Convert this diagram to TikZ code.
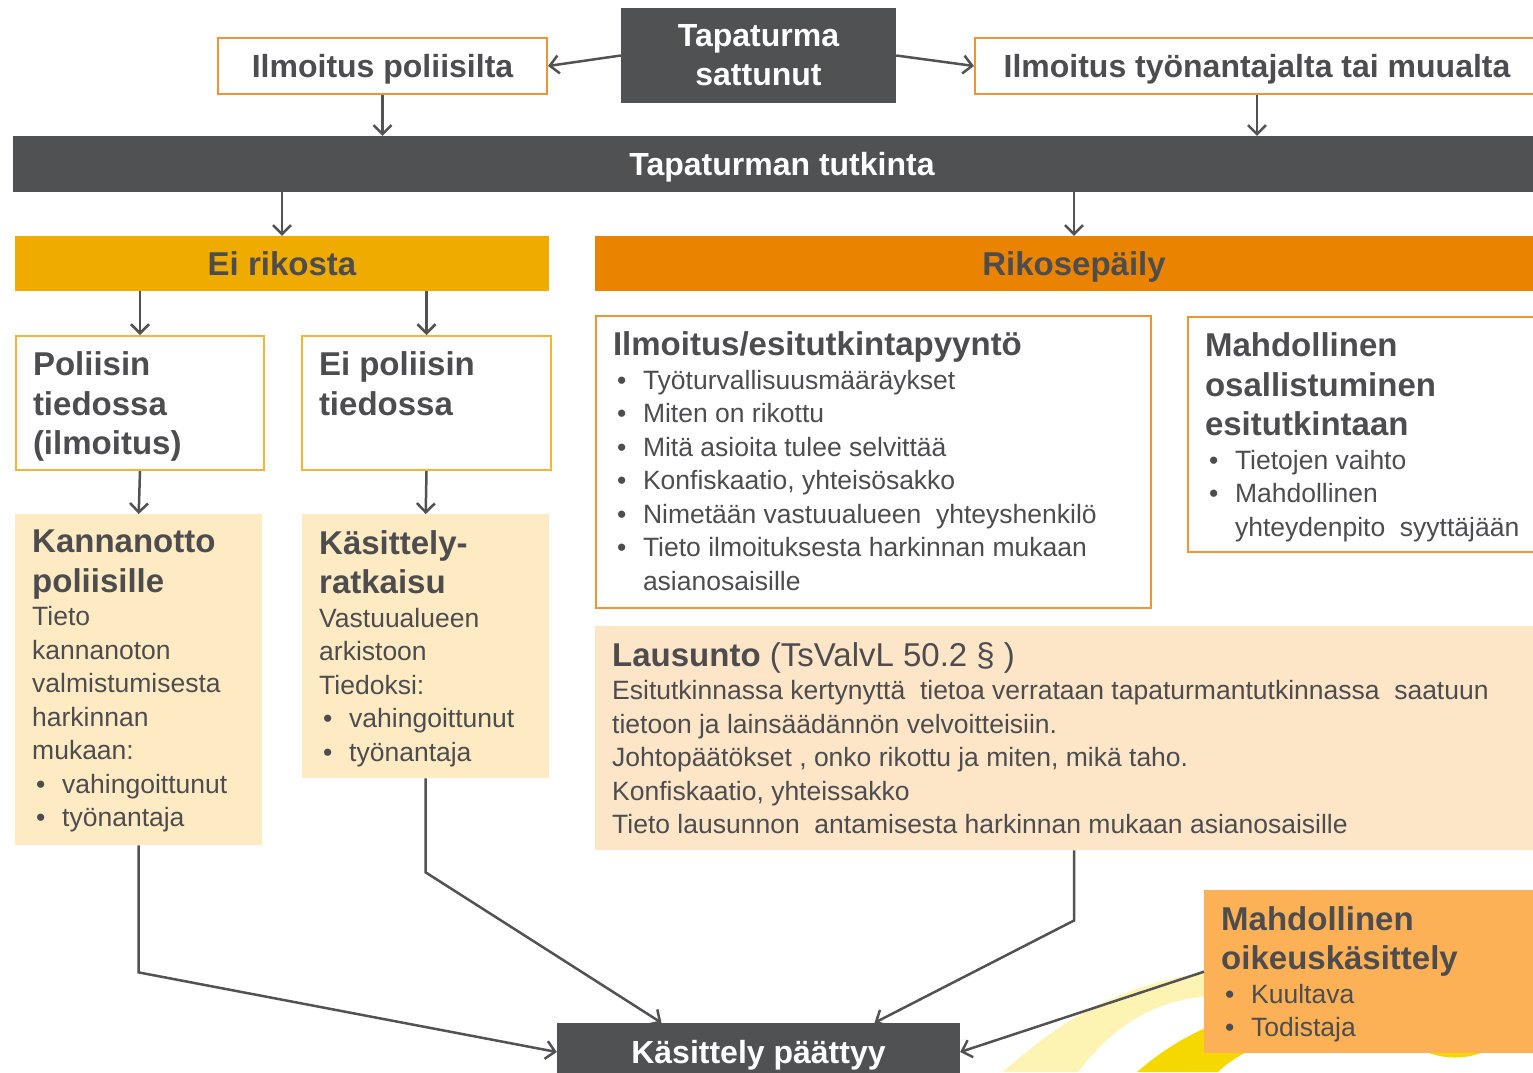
\documentclass[tikz,border=0pt]{standalone}
\usepackage{fontspec}
\setmainfont{Liberation Sans}
\usetikzlibrary{arrows.meta,positioning}

\definecolor{barGray}{RGB}{80,81,83}
\definecolor{txtGray}{RGB}{77,77,79}
\definecolor{arrGray}{RGB}{82,82,84}
\definecolor{lineOrange}{RGB}{236,150,50}
\definecolor{lineYellow}{RGB}{242,182,50}
\definecolor{eiFill}{RGB}{240,171,0}
\definecolor{rikFill}{RGB}{233,131,0}
\definecolor{creamFill}{RGB}{254,235,196}
\definecolor{peachFill}{RGB}{253,229,200}
\definecolor{oikFill}{RGB}{253,177,87}
\definecolor{paleYel}{RGB}{253,243,178}
\definecolor{brightYel}{RGB}{245,216,0}

\newcommand{\boxtxt}[3]{\parbox[t][#2][t]{#1}{\raggedright #3}}
\newcommand{\headfont}{\bfseries\fontsize{33}{39.5}\selectfont}
\newcommand{\bodyfont}{\par\mdseries\fontsize{26.5}{33.5}\selectfont}
\newcommand{\bpoint}{\par\hangindent=30pt\hangafter=1\noindent\hbox to 30pt{\hskip4pt\textbullet\hss}}

\begin{document}
\begin{tikzpicture}[x=1pt, y=-1pt, >={Straight Barb[length=9pt,width=18pt]},
    dark/.style={fill=barGray,text=white,font=\bfseries\fontsize{32}{39}\selectfont,align=center,inner sep=0pt},
    oneline/.style={text height=25.7pt,text depth=2.7pt},
    top/.style={oneline,draw=lineOrange,line width=2pt,fill=white,text=txtGray,font=\bfseries\fontsize{32}{39}\selectfont,inner sep=0pt},
    band/.style={oneline,text=txtGray,font=\bfseries\fontsize{33}{39}\selectfont,inner sep=0pt},
    tbox/.style={anchor=north west,inner xsep=17pt,inner ysep=16pt,text=txtGray},
    ybox/.style={tbox,draw=lineYellow,line width=2pt,fill=white},
    obox/.style={tbox,draw=lineOrange,line width=2pt,fill=white},
    conn/.style={->,draw=arrGray,line width=2.5pt}]
      \clip (0,0) rectangle (1533,1072);
      \fill[white] (0,0) rectangle (1533,1072);

      \fill[paleYel] (1003,1072) .. controls (1050,1030) and (1110,985) .. (1210,972)
        -- (1210,996) .. controls (1150,1000) and (1110,1030) .. (1078,1072) -- cycle;
      \fill[brightYel] (1137,1072) .. controls (1160,1052) and (1185,1036) .. (1215,1024)
        -- (1260,1045) .. controls (1240,1055) and (1228,1062) .. (1218,1072) -- cycle;
      \fill[brightYel] (1423,1050) .. controls (1440,1060) and (1470,1060) .. (1487,1050) -- cycle;

      \node[dark,minimum width=275pt,minimum height=95pt] (tap) at (758.5,55.5) {Tapaturma\\sattunut};
      \node[top,minimum width=329pt,minimum height=56pt] (pol) at (382.5,66) {Ilmoitus poliisilta};
      \node[top,minimum width=564pt,minimum height=56pt] (tyo) at (1257,66) {Ilmoitus työnantajalta tai muualta};
      \node[dark,oneline,minimum width=1538pt,minimum height=56pt] (bar) at (782,164) {Tapaturman tutkinta};

      \node[band,fill=eiFill,minimum width=534pt,minimum height=55pt] (eir) at (282,263.5) {Ei rikosta};
      \node[band,fill=rikFill,minimum width=958pt,minimum height=55pt] (rik) at (1074,263.5) {Rikosepäily};

      \node[ybox] (pti) at (15,335) {\boxtxt{214pt}{102pt}{\headfont Poliisin\\tiedossa\\(ilmoitus)}};
      \node[ybox] (epti) at (301,335) {\boxtxt{215pt}{102pt}{\headfont Ei poliisin\\tiedossa}};

      \node[tbox,fill=creamFill] (kan) at (15,514) {\boxtxt{213pt}{299pt}{\headfont Kannanotto\\poliisille
        \bodyfont Tieto\\kannanoton\\valmistumisesta\\harkinnan\\mukaan:
        \bpoint vahingoittunut\bpoint työnantaja}};
      \node[tbox,fill=creamFill] (kas) at (302,514) {\boxtxt{213pt}{232pt}{\headfont Käsittely-\\ratkaisu
        \bodyfont Vastuualueen\\arkistoon\\Tiedoksi:
        \bpoint vahingoittunut\bpoint työnantaja}};

      \node[obox] (esi) at (595,315) {\boxtxt{521pt}{260pt}{\headfont Ilmoitus/esitutkintapyyntö
        \bodyfont
        \bpoint Työturvallisuusmääräykset
        \bpoint Miten on rikottu
        \bpoint Mitä asioita tulee selvittää
        \bpoint Konfiskaatio, yhteisösakko
        \bpoint Nimetään vastuualueen\ \ yhteyshenkilö
        \bpoint Tieto ilmoituksesta harkinnan mukaan\newline asianosaisille}};
      \node[obox] (osa) at (1187,316) {\boxtxt{332pt}{203pt}{\headfont Mahdollinen\\osallistuminen\\esitutkintaan
        \bodyfont
        \bpoint Tietojen vaihto
        \bpoint Mahdollinen\newline yhteydenpito\ \ syyttäjään}};

      \node[tbox,fill=peachFill] (lau) at (595,626) {\boxtxt{924pt}{192pt}{\headfont Lausunto {\mdseries (TsValvL 50.2 § )}
        \bodyfont Esitutkinnassa kertynyttä\ \ tietoa verrataan tapaturmantutkinnassa\ \ saatuun\\
        tietoon ja lainsäädännön velvoitteisiin.\\
        Johtopäätökset , onko rikottu ja miten, mikä taho.\\
        Konfiskaatio, yhteissakko\\
        Tieto lausunnon\ \ antamisesta harkinnan mukaan asianosaisille}};

      \node[tbox,fill=oikFill] (oik) at (1204,890) {\boxtxt{315pt}{131pt}{\headfont Mahdollinen\\oikeuskäsittely
        \bodyfont
        \bpoint Kuultava
        \bpoint Todistaja}};

      \node[dark,oneline,minimum width=403pt,minimum height=58pt] (end) at (758.5,1052) {Käsittely päättyy};

      \draw[conn] (tap.west) -- (pol.east);
      \draw[conn] (tap.east) -- (tyo.west);
      \draw[conn] (pol.south) -- (pol.south |- bar.north);
      \draw[conn] (tyo.south) -- (tyo.south |- bar.north);
      \draw[conn] (eir.north |- bar.south) -- (eir.north);
      \draw[conn] (rik.north |- bar.south) -- (rik.north);
      \draw[conn] (pti.north |- eir.south) -- (pti.north);
      \draw[conn] (epti.north |- eir.south) -- (epti.north);
      \draw[conn] (pti.south) -- (kan.north);
      \draw[conn] (epti.south) -- (kas.north);
      \draw[conn] (kan.south) -- ++(0,127) -- (end.west);
      \draw[conn] (kas.south) -- ++(0,94) -- ([xshift=-97pt]end.north);
      \draw[conn] (lau.south) -- ++(0,70) -- ([xshift=116pt]end.north);
      \draw[conn] (oik.west) -- (end.east);
\end{tikzpicture}
\end{document}
